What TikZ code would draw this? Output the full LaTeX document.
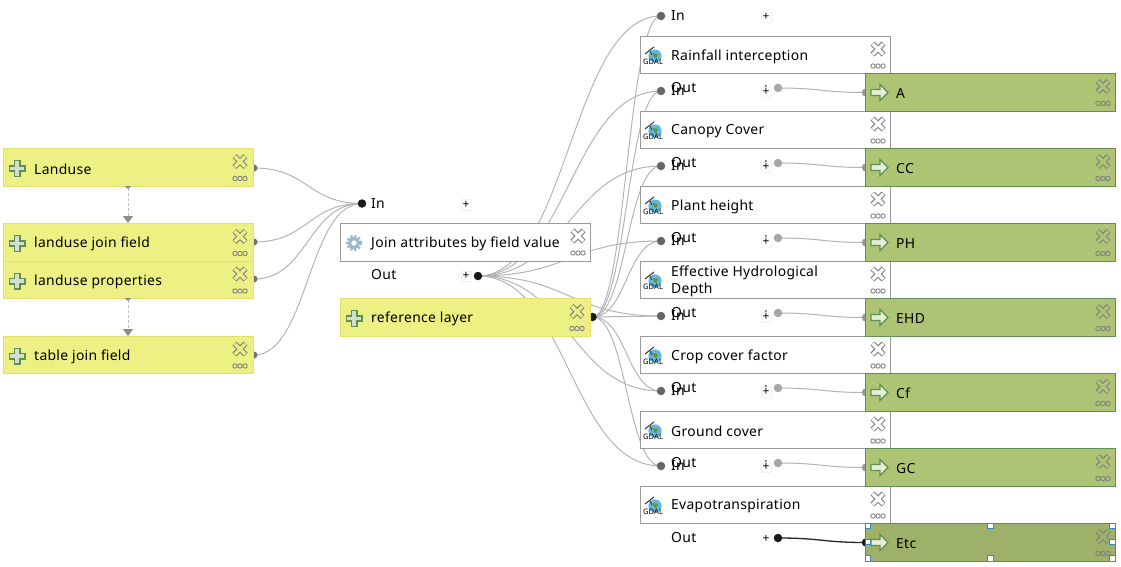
\documentclass[tikz,border=0pt]{standalone}
\usepackage{fontspec}
\setmainfont{Noto Sans}[LetterSpace=2.2]
\usetikzlibrary{arrows.meta,calc}
\pgfdeclarelayer{edges}
\pgfsetlayers{edges,main}
\definecolor{yel}{HTML}{EDF083}
\definecolor{yelb}{HTML}{E6E070}
\definecolor{grn}{HTML}{ADC474}
\definecolor{grnb}{HTML}{5F8F55}
\definecolor{sel}{HTML}{9DB168}
\definecolor{selb}{HTML}{3F86C4}
\definecolor{edgec}{HTML}{B4B4B4}
\definecolor{globe}{HTML}{62B8DC}
\definecolor{land}{HTML}{6F8F30}
\tikzset{
 x=1pt,y=-1pt,
 boxn/.style={minimum width=250.5pt,minimum height=37.5pt,anchor=north west,inner sep=0pt,outer sep=0pt,line width=.9pt},
 ybox/.style={boxn,draw=yelb,fill=yel},
 wbox/.style={boxn,draw=black!40,fill=white},
 gbox/.style={boxn,draw=grnb,fill=grn},
 sbox/.style={boxn,draw=selb,fill=sel},
 lab/.style={anchor=west,inner sep=0pt,font=\fontsize{13.9}{16}\selectfont,text=black},
 port/.style={circle,inner sep=0pt,minimum size=8.5pt,fill=#1},
 port/.default={black!60},
 plusn/.style={draw=black!5,fill=white,inner sep=0pt,minimum size=10.5pt,font=\fontsize{12}{10}\selectfont\bfseries},
 wire/.style={edgec,line width=1pt},
 dep/.style={black!25,densely dashed,line width=1pt,{Triangle[reversed,length=3pt,width=7pt,fill=black!45,black!45]}-{Triangle[length=7pt,width=10pt,fill=black!45,black!45]}},
 handle/.style={draw=selb,fill=white,inner sep=0pt,minimum size=5.5pt,line width=1pt},
 pics/xicon/.style={code={
   \draw[line width=5.4pt,black!50] (-5.5,-5.5)--(5.5,5.5) (-5.5,5.5)--(5.5,-5.5);
   \draw[line width=3.2pt,#1] (-5.2,-5.2)--(5.2,5.2) (-5.2,5.2)--(5.2,-5.2);
   \foreach \i in {-5,0,5}{\draw[black!50,line width=.9pt,fill=#1] (\i,17) circle (2.2);}
 }},
 pics/plusicon/.style={code={
   \draw[line width=7pt,grnb] (-8.5,0)--(8.5,0) (0,-8.5)--(0,8.5);
   \draw[line width=3.6pt,white!72!grnb] (-7.3,0)--(7.3,0) (0,-7.3)--(0,7.3);
 }},
 pics/arrowicon/.style={code={
   \draw[grnb,line width=1.3pt,fill=white!70!grn] (-8,-3)--(1,-3)--(1,-8)--(9,0)--(1,8)--(1,3)--(-8,3)--cycle;
 }},
 pics/gdalicon/.style={code={
   \fill[globe] (2,-1) circle (6.6);
   \fill[land] (0,-4)--(5,-3)--(3,1)--(1,0)--cycle;
   \draw[black!75,line width=1.1pt] (-8,-3)--(1,-10);
   \draw[black!75,line width=1pt] (-3,-6)--(-1,-2);
   \node[inner sep=0pt,font=\fontsize{7.5}{6}\selectfont\bfseries] at (0,5) {GDAL};
 }},
 pics/gearicon/.style={code={
   \draw[blue!40!cyan!50!black!40,line width=3pt,dash pattern=on 2.2pt off 1.7pt] (0,0) circle (6.6);
   \draw[blue!40!cyan!50!black!40,line width=3pt] (0,0) circle (4.4);
   \fill[white] (0,0) circle (2.4);
 }},
}
\newcommand{\inputbox}[4]{% name,x,y,text
 \node[ybox] (#1) at (#2,#3) {};
 \pic at (#2+14,#3+20) {plusicon};
 \pic at (#2+237,#3+13) {xicon=yel};
 \node[lab] (#1t) at (#2+31,#3+20.5) {#4};
}
\begin{document}
\begin{tikzpicture}
\useasboundingbox (0,0) rectangle (1121,566);
% left ports
\foreach \n/\yy in {pa/168,pb/242,pc/279,pd/355}{
  \node[port=black!55,minimum size=7pt] (\n) at (254,\yy) {};
}
\inputbox{landuse}{3}{148.5}{Landuse}
\inputbox{joinf}{3}{223.5}{landuse join field}
\inputbox{props}{3}{261}{landuse properties}
\inputbox{tablef}{3}{336}{table join field}
\coordinate (d1a) at (128,186);
\coordinate (d1b) at (128,223);
\coordinate (d2a) at (128,298);
\coordinate (d2b) at (128,336);
\draw[dep] (d1a)--(d1b);
\draw[dep] (d2a)--(d2b);
% join
\node[port=black!90] (joinin) at (362,203.5) {};
\node[lab] (joinint) at (371,203.5) {In};
\node[plusn] (joinplus) at (466,204.5) {+};
\node[wbox] (join) at (340,223.5) {};
\pic at (354,243) {gearicon};
\pic at (578,236) {xicon=white};
\node[lab] (joint) at (371,243.5) {Join attributes by field value};
\node[lab] (joinoutt) at (371,274.5) {Out};
\node[plusn] (joinoutplus) at (466,276) {+};
\node[port=black!90] (joinout) at (478,276) {};
\node[port=black!90] (refp) at (592.5,317) {};
\inputbox{ref}{340}{298.5}{reference layer}
% gdal stages
\foreach \n/\yy/\tt/\oo in {a/36/Rainfall interception/A,b/111/Canopy Cover/CC,c/186/Plant height/PH,d/261/{}/EHD,e/336/Crop cover factor/Cf,f/411/Ground cover/GC,g/486/Evapotranspiration/Etc}{
  \node[port=black!60] (in\n) at (661,\yy-20) {};
  \node[lab] (int\n) at (671,\yy-20) {In};
  \node[plusn] (inplus\n) at (766,\yy-19) {+};
  \node[wbox] (box\n) at (640,\yy) {};
  \pic at (653,\yy+21) {gdalicon};
  \pic at (878,\yy+13) {xicon=white};
  \node[lab] (boxt\n) at (671,\yy+20.5) {\tt};
  \node[lab] (outt\n) at (671,\yy+52) {Out};
  \node[plusn,draw=none,fill=none] (outplus\n) at (766,\yy+52.5) {+};
}
% clipped two-line title
\begin{scope}
 \clip (650,262) rectangle (860,296.5);
 \node[lab,align=left,font=\fontsize{13.9}{17.5}\selectfont] (boxtd) at (671,281.5) {Effective Hydrological\\Depth};
\end{scope}
% output ports and boxes
\foreach \n/\yy/\oo in {a/36/A,b/111/CC,c/186/PH,d/261/EHD,e/336/Cf,f/411/GC}{
  \node[port=black!35] (outp\n) at (778,\yy+52) {};
  \node[port=black!40] (resp\n) at (866,\yy+56.5) {};
  \node[gbox] (res\n) at (865,\yy+37.5) {};
  \pic at (879,\yy+56.5) {arrowicon};
  \pic at (1103,\yy+50.5) {xicon=grn};
  \node[lab] (rest\n) at (896,\yy+57.5) {\oo};
}
\node[port=black!90] (outpg) at (778,538) {};
\node[port=black!90] (respg) at (866,542.5) {};
\node[sbox] (resg) at (865,523.5) {};
\pic at (879,542.5) {arrowicon};
\pic at (1103,536.5) {xicon=sel};
\node[lab] (restg) at (896,543.5) {Etc};
\foreach \hx/\hy [count=\i] in {868/526,990.5/526,1112.5/526,868/542,1112.5/542,868/558.5,990.5/558.5,1112.5/558.5}{
  \node[handle] (h\i) at (\hx,\hy) {};
}
% connectors
\begin{pgfonlayer}{edges}
\foreach \n in {pa,pb,pc,pd}{
  \draw[wire] (\n.center) .. controls +(54,0) and +(-54,0) .. (joinin.center);
}
\foreach \n in {a,b,c,d,e,f,g}{
  \draw[wire] (joinout.center) .. controls +(90,0) and +(-90,0) .. (in\n.center);
  \draw[wire] (refp.center) .. controls +(34,0) and +(-34,0) .. (in\n.center);
}
\foreach \n in {a,b,c,d,e,f}{
  \draw[wire,black!30] (outp\n.center) .. controls +(44,0) and +(-44,0) .. (resp\n.center);
}
\draw[black!85,line width=1.3pt] (outpg.center) .. controls +(44,0) and +(-44,0) .. (respg.center);
\end{pgfonlayer}
\end{tikzpicture}
\end{document}
